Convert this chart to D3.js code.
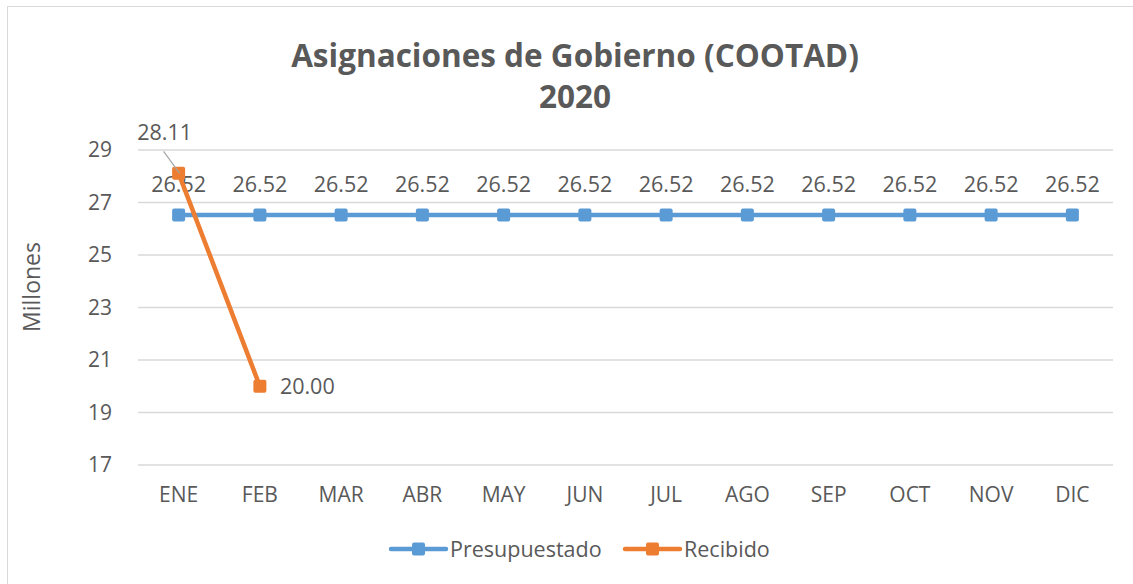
<!DOCTYPE html>
<html>
<head>
<meta charset="utf-8">
<script src="https://cdnjs.cloudflare.com/ajax/libs/d3/7.8.5/d3.min.js"></script>
<style>
  body { margin: 0; background: #fff; }
  text { font-family: "Open Sans", sans-serif; fill: #595959; }
</style>
</head>
<body>
<div id="chart"></div>
<script>
// chart data
var months = ["ENE", "FEB", "MAR", "ABR", "MAY", "JUN", "JUL", "AGO", "SEP", "OCT", "NOV", "DIC"];
var presupuestado = [26.52, 26.52, 26.52, 26.52, 26.52, 26.52, 26.52, 26.52, 26.52, 26.52, 26.52, 26.52];
var recibido = [28.11, 20.00];
var yTicks = [17, 19, 21, 23, 25, 27, 29];

var W = 1133, H = 584;
var blue = "#5B9BD5", orange = "#ED7D31";

var svg = d3.select("#chart").append("svg")
    .attr("width", W)
    .attr("height", H);

// outer border
svg.append("rect")
    .attr("x", 7.5).attr("y", 6.5)
    .attr("width", W).attr("height", H)
    .attr("fill", "#fff")
    .attr("stroke", "#D9D9D9");

// scales
var x = d3.scaleBand().domain(months).range([138, 1113]);
var y = d3.scaleLinear().domain([17, 29]).range([465, 150]);
var cx = function(d, i) { return x(months[i]) + x.bandwidth() / 2; };

// title
var title = svg.append("text")
    .attr("text-anchor", "middle")
    .style("font-size", "31.5px")
    .style("font-weight", "bold");
title.append("tspan").attr("x", 575).attr("y", 67).text("Asignaciones de Gobierno (COOTAD)");
title.append("tspan").attr("x", 575).attr("y", 108).text("2020");

// gridlines
svg.append("g")
    .selectAll("line")
    .data(yTicks)
    .enter().append("line")
        .attr("x1", 138).attr("x2", 1113)
        .attr("y1", function(d) { return y(d); })
        .attr("y2", function(d) { return y(d); })
        .attr("stroke", "#D9D9D9")
        .attr("stroke-width", 1.5);

// y axis labels
var yAxis = svg.append("g")
    .attr("transform", "translate(112,0)")
    .call(d3.axisLeft(y).tickValues(yTicks).tickSize(0).tickPadding(0).tickFormat(d3.format("d")));
yAxis.select(".domain").remove();
yAxis.selectAll("text").style("font-size", "21px").style("font-family", "'Open Sans', sans-serif").attr("fill", "#595959");

// x axis labels
var xAxis = svg.append("g")
    .attr("transform", "translate(0,487)")
    .call(d3.axisBottom(x).tickSize(0).tickPadding(0));
xAxis.select(".domain").remove();
xAxis.selectAll("text").style("font-size", "21px").style("font-family", "'Open Sans', sans-serif").attr("fill", "#595959");

// y axis title
svg.append("text")
    .attr("transform", "translate(40,287) rotate(-90)")
    .attr("text-anchor", "middle")
    .style("font-size", "23px")
    .text("Millones");

var line = d3.line()
    .x(function(d, i) { return cx(d, i); })
    .y(function(d) { return y(d); });

// presupuestado series
svg.append("path")
    .attr("d", line(presupuestado))
    .attr("fill", "none")
    .attr("stroke", blue)
    .attr("stroke-width", 4.5)
    .attr("stroke-linecap", "round");

svg.append("g").selectAll("rect")
    .data(presupuestado)
    .enter().append("rect")
        .attr("x", function(d, i) { return cx(d, i) - 6.5; })
        .attr("y", function(d) { return y(d) - 6.5; })
        .attr("width", 13).attr("height", 13).attr("rx", 2)
        .attr("fill", blue);

svg.append("g").selectAll("text")
    .data(presupuestado)
    .enter().append("text")
        .attr("x", function(d, i) { return cx(d, i); })
        .attr("y", function(d) { return y(d) - 23; })
        .attr("text-anchor", "middle")
        .style("font-size", "21.5px")
        .text(function(d) { return d.toFixed(2); });

// recibido series
svg.append("path")
    .attr("d", line(recibido))
    .attr("fill", "none")
    .attr("stroke", orange)
    .attr("stroke-width", 4.5)
    .attr("stroke-linecap", "round");

svg.append("g").selectAll("rect")
    .data(recibido)
    .enter().append("rect")
        .attr("x", function(d, i) { return cx(d, i) - 6.5; })
        .attr("y", function(d) { return y(d) - 6.5; })
        .attr("width", 13).attr("height", 13).attr("rx", 2)
        .attr("fill", orange);

// leader line for first label
svg.append("line")
    .attr("x1", cx(recibido[0], 0) - 15).attr("y1", y(recibido[0]) - 22)
    .attr("x2", cx(recibido[0], 0) + 1).attr("y2", y(recibido[0]))
    .attr("stroke", "#A6A6A6").attr("stroke-width", 1.2);

svg.append("text")
    .attr("x", cx(recibido[0], 0) - 14)
    .attr("y", y(recibido[0]) - 33)
    .attr("text-anchor", "middle")
    .style("font-size", "21.5px")
    .text(recibido[0].toFixed(2));

svg.append("text")
    .attr("x", cx(recibido[1], 1) + 20)
    .attr("y", y(recibido[1]) + 7.5)
    .style("font-size", "21.5px")
    .text(recibido[1].toFixed(2));

// legend
var legend = [
    {name: "Presupuestado", color: blue, x: 391},
    {name: "Recibido", color: orange, x: 625}
];
var lg = svg.append("g").selectAll("g")
    .data(legend)
    .enter().append("g")
        .attr("transform", function(d) { return "translate(" + d.x + ",549)"; });
lg.append("line")
    .attr("x1", 0).attr("x2", 55)
    .attr("stroke", function(d) { return d.color; })
    .attr("stroke-width", 4.5)
    .attr("stroke-linecap", "round");
lg.append("rect")
    .attr("x", 21).attr("y", -6.5)
    .attr("width", 13).attr("height", 13).attr("rx", 2)
    .attr("fill", function(d) { return d.color; });
lg.append("text")
    .attr("x", 59).attr("y", 7.5)
    .style("font-size", "21.5px")
    .text(function(d) { return d.name; });
</script>
</body>
</html>
